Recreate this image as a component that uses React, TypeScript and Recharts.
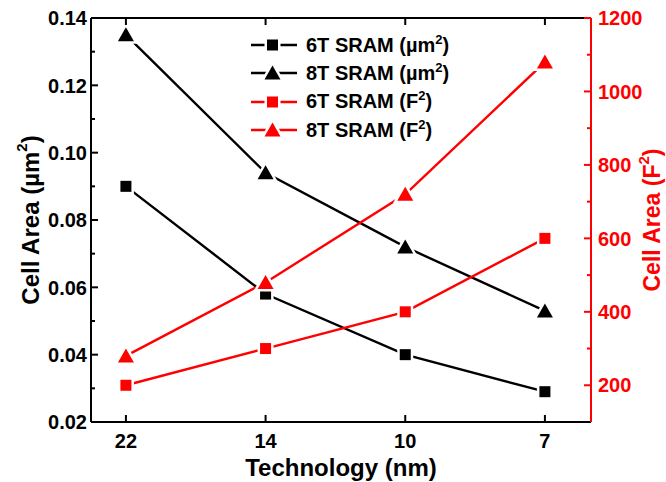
import { Line, LineChart, ReferenceLine, XAxis, YAxis } from "recharts";

const techNodes = ["22", "14", "10", "7"];
const sram6TArea = [0.09, 0.058, 0.04, 0.029];
const sram8TArea = [0.135, 0.094, 0.072, 0.053];
const sram6TF2 = [200, 300, 400, 600];
const sram8TF2 = [280, 480, 720, 1080];

const leftTicks = [0.02, 0.03, 0.04, 0.05, 0.06, 0.07, 0.08, 0.09, 0.1, 0.11, 0.12, 0.13, 0.14];
const rightTicks = [200, 300, 400, 500, 600, 700, 800, 900, 1000, 1100, 1200];

const data = techNodes.map((t, i) => ({
  idx: i,
  tech: t,
  a6: sram6TArea[i],
  a8: sram8TArea[i],
  f6: sram6TF2[i],
  f8: sram8TF2[i],
}));

const FONT = '"Liberation Sans", Arial, Helvetica, sans-serif';
const RED = "#ff0000";
const BLACK = "#000000";

// plot box
const PLOT_TOP = 18;
const PLOT_LEFT = 91;
const PLOT_RIGHT = 591;
const PLOT_BOTTOM = 422;
const MAJOR = 7;
const MINOR = 4;
const LINE_W = 2.4;

function squareDot(color: string) {
  return (p: any) => (
    <rect
      key={`sq-${p.index}`}
      x={p.cx - 5.5}
      y={p.cy - 5.5}
      width={11}
      height={11}
      fill={color}
      stroke="#fff"
      strokeWidth={5}
      paintOrder="stroke"
    />
  );
}

function triangleDot(color: string) {
  return (p: any) => (
    <polygon
      key={`tr-${p.index}`}
      points={`${p.cx},${p.cy - 7.5} ${p.cx - 8},${p.cy + 6.5} ${p.cx + 8},${p.cy + 6.5}`}
      fill={color}
      stroke="#fff"
      strokeWidth={5}
      paintOrder="stroke"
    />
  );
}

function BottomTick(props: any) {
  const { x, payload } = props;
  return (
    <g>
      <line x1={x} x2={x} y1={PLOT_BOTTOM} y2={PLOT_BOTTOM - MAJOR} stroke={BLACK} strokeWidth={2} />
      <line x1={x} x2={x} y1={PLOT_TOP} y2={PLOT_TOP + MAJOR} stroke={BLACK} strokeWidth={2} />
      <text x={x} y={PLOT_BOTTOM + 26} textAnchor="middle" fontFamily={FONT} fontWeight="bold" fontSize={20} fill={BLACK}>
        {techNodes[payload.value]}
      </text>
    </g>
  );
}

function LeftTick(props: any) {
  const { y, payload } = props;
  const v = payload.value as number;
  const major = Math.round(v * 100) % 2 === 0;
  return (
    <g>
      <line x1={PLOT_LEFT} x2={PLOT_LEFT + (major ? MAJOR : MINOR)} y1={y} y2={y} stroke={BLACK} strokeWidth={2} />
      {major && (
        <text x={PLOT_LEFT - 4} y={y} dy="0.36em" textAnchor="end" fontFamily={FONT} fontWeight="bold" fontSize={20} fill={BLACK}>
          {v.toFixed(2)}
        </text>
      )}
    </g>
  );
}

function RightTick(props: any) {
  const { y, payload } = props;
  const v = payload.value as number;
  const major = v % 200 === 0;
  return (
    <g>
      <line x1={PLOT_RIGHT} x2={PLOT_RIGHT - (major ? MAJOR : MINOR)} y1={y} y2={y} stroke={RED} strokeWidth={2} />
      {major && (
        <text x={PLOT_RIGHT + 7} y={y} dy="0.36em" textAnchor="start" fontFamily={FONT} fontWeight="bold" fontSize={20} fill={RED}>
          {v}
        </text>
      )}
    </g>
  );
}

function LeftTitle() {
  const cx = 30;
  const cy = (PLOT_TOP + PLOT_BOTTOM) / 2;
  return (
    <text
      x={cx}
      y={cy}
      transform={`rotate(-90, ${cx}, ${cy})`}
      textAnchor="middle"
      dominantBaseline="central"
      fontFamily={FONT}
      fontWeight="bold"
      fontSize={24}
      fill={BLACK}
    >
      Cell Area (µm
      <tspan fontSize={15} dy={-9}>2</tspan>
      <tspan dy={9}>)</tspan>
    </text>
  );
}

function RightTitle() {
  const cx = 652;
  const cy = (PLOT_TOP + PLOT_BOTTOM) / 2;
  return (
    <text
      x={cx}
      y={cy}
      transform={`rotate(-90, ${cx}, ${cy})`}
      textAnchor="middle"
      dominantBaseline="central"
      fontFamily={FONT}
      fontWeight="bold"
      fontSize={23}
      fill={RED}
    >
      Cell Area (F
      <tspan fontSize={15} dy={-9}>2</tspan>
      <tspan dy={9}>)</tspan>
    </text>
  );
}

function BottomTitle() {
  return (
    <text
      x={(PLOT_LEFT + PLOT_RIGHT) / 2}
      y={476}
      textAnchor="middle"
      fontFamily={FONT}
      fontWeight="bold"
      fontSize={24}
      fill={BLACK}
    >
      Technology (nm)
    </text>
  );
}

const legendItems = [
  { label: "6T SRAM (µm", color: BLACK, shape: "square" },
  { label: "8T SRAM (µm", color: BLACK, shape: "triangle" },
  { label: "6T SRAM (F", color: RED, shape: "square" },
  { label: "8T SRAM (F", color: RED, shape: "triangle" },
];

function ChartLegend() {
  return (
    <div style={{ position: "absolute", left: 250, top: 31, fontFamily: FONT, fontWeight: "bold", fontSize: 20 }}>
      {legendItems.map((it) => (
        <div key={it.label + it.color} style={{ display: "flex", alignItems: "center", height: 28.3 }}>
          <svg width={48} height={20} style={{ marginRight: 8 }}>
            <line x1={1} x2={47} y1={10} y2={10} stroke={it.color} strokeWidth={LINE_W} />
            {it.shape === "square" ? (
              <rect x={17} y={4.5} width={11} height={11} fill={it.color} stroke="#fff" strokeWidth={5} paintOrder="stroke" />
            ) : (
              <polygon points="22.5,2.5 14.5,16.5 30.5,16.5" fill={it.color} stroke="#fff" strokeWidth={5} paintOrder="stroke" />
            )}
          </svg>
          <span style={{ color: BLACK, whiteSpace: "nowrap" }}>
            {it.label}
            <span style={{ fontSize: 13, position: "relative", top: -8 }}>2</span>)
          </span>
        </div>
      ))}
    </div>
  );
}

export default function App() {
  return (
    <div style={{ position: "absolute", left: 0, top: 0, width: 666, height: 482, background: "#fff" }}>
      <LineChart width={666} height={482} data={data} margin={{ top: PLOT_TOP, right: 0, bottom: 0, left: 0 }}>
        <XAxis
          dataKey="idx"
          type="number"
          domain={[-0.25, 3.33]}
          ticks={[0, 1, 2, 3]}
          height={60}
          axisLine={{ stroke: BLACK, strokeWidth: 2 }}
          tickLine={false}
          tickSize={0}
          tick={<BottomTick />}
          label={<BottomTitle />}
          allowDataOverflow
        />
        <YAxis
          yAxisId="left"
          orientation="left"
          width={91}
          domain={[0.02, 0.14]}
          ticks={leftTicks}
          axisLine={{ stroke: BLACK, strokeWidth: 2 }}
          tickLine={false}
          tickSize={0}
          tick={<LeftTick />}
          label={<LeftTitle />}
          allowDataOverflow
        />
        <YAxis
          yAxisId="right"
          orientation="right"
          width={75}
          domain={[100, 1200]}
          ticks={rightTicks}
          axisLine={{ stroke: RED, strokeWidth: 2 }}
          tickLine={false}
          tickSize={0}
          tick={<RightTick />}
          label={<RightTitle />}
          allowDataOverflow
        />
        <ReferenceLine yAxisId="left" y={0.14} stroke={BLACK} strokeWidth={2} />
        <Line yAxisId="left" dataKey="a6" stroke={BLACK} strokeWidth={LINE_W} dot={squareDot(BLACK)} activeDot={false} isAnimationActive={false} />
        <Line yAxisId="left" dataKey="a8" stroke={BLACK} strokeWidth={LINE_W} dot={triangleDot(BLACK)} activeDot={false} isAnimationActive={false} />
        <Line yAxisId="right" dataKey="f6" stroke={RED} strokeWidth={LINE_W} dot={squareDot(RED)} activeDot={false} isAnimationActive={false} />
        <Line yAxisId="right" dataKey="f8" stroke={RED} strokeWidth={LINE_W} dot={triangleDot(RED)} activeDot={false} isAnimationActive={false} />
      </LineChart>
      <ChartLegend />
    </div>
  );
}
